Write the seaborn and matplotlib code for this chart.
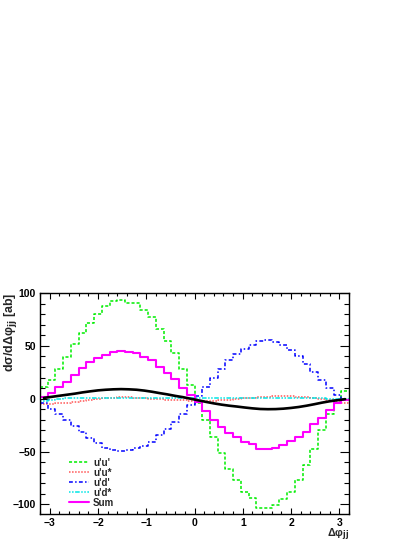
import numpy as np
import pandas as pd
import matplotlib
matplotlib.use("Agg")
import matplotlib.pyplot as plt
import seaborn as sns

# 40 bins on [-3.2, 3.2]
edges = np.linspace(-3.2, 3.2, 41)
centers = 0.5 * (edges[:-1] + edges[1:])

uu = [11.5, 18, 28.5, 39, 51.7, 62.3, 72, 80, 87.5, 92,
      93.5, 90.7, 90.4, 84, 77.5, 65.5, 54.5, 43, 28, 12.7,
      -4, -20, -36, -51, -66, -77, -88, -94, -103, -103,
      -100.5, -95, -88, -77, -62.5, -47.5, -30, -14, -1, 7.5]
uustar = [-5, -4.8, -4, -3.6, -3.3, -2.5, -1.5, -0.5, 0.5, 1,
          1.2, 1.2, 1, 0.5, 0, -0.5, -1, -1.3, -1.5, -1.8,
          -2, -2, -1.8, -1.5, -1, -0.3, 0.5, 1, 1.5, 2,
          2.3, 2.5, 2.3, 2, 1.5, 0.5, -0.5, -1.5, -3, -4]
ud = [-4.5, -9.3, -14.5, -20.5, -25.8, -31.7, -37.6, -42, -46.2, -48.3,
      -49.2, -48.6, -47, -44.5, -40.5, -34.5, -28.2, -21.8, -14, -5.5,
      2.5, 11, 19.5, 28, 36.4, 42.7, 47.5, 51.2, 55, 55.3,
      54, 50.6, 46, 40.6, 33.3, 25.5, 17.5, 9.7, 3.4, -1.3]
udstar = [-2, -1, -0.5, 0.5, 0.8, 0.8, 0.8, 0.8, 0.8, 0.8,
          0.8, 0.8, 0.8, 0.8, 0.8, 0.8, 0.8, 0.8, 0.8, 0.8,
          0.8, 0.8, 0.8, 0.8, 0.8, 0.8, 0.8, 0.5, 0.5, 0.5,
          0.5, 0.5, 0.5, 0.5, 0.5, 0.5, 0.5, 0, 0, 0]
total = [1.7, 5.5, 11, 16.2, 22, 29.2, 34.4, 38.7, 41.8, 44.2,
         45, 44.2, 43, 39.5, 36.2, 30, 24, 18.7, 10.4, 3.4,
         -3, -12, -20, -27, -32, -36.5, -40.5, -43, -47.5, -47.5,
         -46.3, -43.7, -40, -35.9, -31.2, -24.2, -18, -10.7, -4.4, -1.3]
interf = [0.8, 1.8, 2.8, 3.8, 4.8, 6.0, 7.0, 7.9, 8.5, 8.9,
          9.1, 8.9, 8.5, 7.7, 6.6, 5.3, 4.1, 2.7, 1.5, 0.0,
          -1.5, -3.0, -4.4, -5.6, -6.6, -7.4, -8.3, -9.1, -9.7, -9.9,
          -9.8, -9.4, -8.7, -7.8, -6.6, -5.2, -3.7, -2.4, -1.4, -0.4]

series = [
    ("u'u'", uu, "#00ee00", (0, (2, 1.3)), 1.1),
    ("u'u*", uustar, "#ff5555", (0, (1, 1)), 1.1),
    ("u'd'", ud, "#0000ff", (0, (2.5, 1.5, 1, 1.5)), 1.1),
    ("u'd*", udstar, "#00e5e5", (0, (1, 1, 1, 1, 3, 1)), 1.1),
    ("Sum", total, "#ff00ff", "-", 1.5),
]

sns.set_style("ticks")
plt.rcParams["font.family"] = ["Liberation Sans", "DejaVu Sans"]
plt.rcParams["font.weight"] = "bold"
plt.rcParams["mathtext.default"] = "bf"

fig = plt.figure(figsize=(4.19, 5.42), dpi=100)
ax = fig.add_axes([0.0955, 0.0517, 0.7375, 0.4077])

for name, vals, col, ls, lw in series:
    ys = np.append(vals, vals[-1])
    sns.lineplot(x=edges, y=ys, ax=ax, color=col, lw=lw, linestyle=ls,
                 drawstyle="steps-post", sort=False, estimator=None, label=name)

sns.lineplot(x=centers, y=interf, ax=ax, color="black", lw=1.9,
             sort=False, estimator=None)

ax.set_xlim(-3.2, 3.2)
ax.set_ylim(-109, 99.5)
ax.set_xticks(range(-3, 4))
ax.set_xticks(np.arange(-3.2, 3.21, 0.2), minor=True)
ax.set_yticks([-100, -50, 0, 50, 100])
ax.set_yticks(np.arange(-100, 101, 10), minor=True)
ax.tick_params(which="both", direction="in", top=True, right=True,
               labelsize=7.5, width=0.8, colors="black")
ax.tick_params(axis="x", which="major", length=4.5, pad=3)
ax.tick_params(axis="x", which="minor", length=2.3)
ax.tick_params(axis="y", which="major", length=6.5, pad=3)
ax.tick_params(axis="y", which="minor", length=3.3)
for lab in ax.get_xticklabels() + ax.get_yticklabels():
    lab.set_fontweight("bold")
for sp in ax.spines.values():
    sp.set_linewidth(1.0)
    sp.set_color("black")

ax.set_xlabel("")
ax.set_ylabel("")
ax.text(-0.097, 1.0, "dσ/dΔφ$_{\\mathbf{jj}}$ [ab]", transform=ax.transAxes,
        rotation=90, ha="center", va="top", fontsize=9, fontweight="bold")
ax.text(1.0, -0.057, "Δφ$_{\\mathbf{jj}}$", transform=ax.transAxes,
        ha="right", va="top", fontsize=7.8, fontweight="bold")

leg = ax.legend(loc="lower left", bbox_to_anchor=(0.093, 0.028), frameon=False,
                fontsize=7, handlelength=2.1, handletextpad=0.4,
                labelspacing=0.0, borderpad=0, borderaxespad=0)
for t in leg.get_texts():
    t.set_fontweight("bold")

fig.savefig("out.png", dpi=100, facecolor="white")
